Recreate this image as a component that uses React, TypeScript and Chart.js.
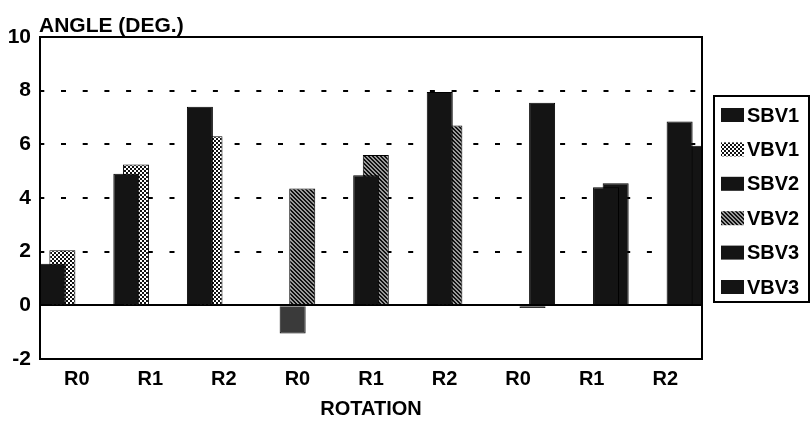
import React, { useEffect, useRef } from "react";
import { Chart, registerables } from "chart.js";

Chart.register(...registerables);

const categories = ["R0", "R1", "R2", "R0", "R1", "R2", "R0", "R1", "R2"];
const seriesNames = ["SBV1", "VBV1", "SBV2", "VBV2", "SBV3", "VBV3"];
const sbv1 = [1.55, 4.9, 7.4, null, null, null, null, null, null];
const vbv1 = [2.05, 5.25, 6.3, null, null, null, null, null, null];
const sbv2 = [null, null, null, -1.05, 4.85, 7.95, null, null, null];
const vbv2 = [null, null, null, 4.35, 5.6, 6.7, null, null, null];
const sbv3 = [null, null, null, null, null, null, -0.1, 4.4, 6.85];
const vbv3 = [null, null, null, null, null, null, 7.55, 4.55, 5.95];
const yTicks = [-2, 0, 2, 4, 6, 8, 10];
const yTitle = "ANGLE (DEG.)";
const xTitle = "ROTATION";

const FONT = "'Liberation Sans', Arial, Helvetica, sans-serif";

function makeDots(): CanvasPattern | string {
  const c = document.createElement("canvas");
  c.width = 4;
  c.height = 4;
  const g = c.getContext("2d");
  if (!g) return "#555";
  g.fillStyle = "#111";
  g.fillRect(0, 0, 4, 4);
  g.fillStyle = "#fff";
  g.fillRect(0, 0, 2, 2);
  g.fillRect(2, 2, 2, 2);
  return g.createPattern(c, "repeat") || "#555";
}

function makeHatch(): CanvasPattern | string {
  const c = document.createElement("canvas");
  c.width = 4;
  c.height = 4;
  const g = c.getContext("2d");
  if (!g) return "#777";
  g.fillStyle = "#9a9a9a";
  g.fillRect(0, 0, 4, 4);
  g.fillStyle = "#111";
  for (let i = 0; i < 4; i++) {
    g.fillRect(i, i, 1, 1);
    g.fillRect((i + 1) % 4, i, 1, 1);
  }
  return g.createPattern(c, "repeat") || "#777";
}

export default function App() {
  const ref = useRef<HTMLCanvasElement | null>(null);

  useEffect(() => {
    if (!ref.current) return;
    const black = "#141414";
    const dots = makeDots();
    const hatch = makeHatch();
    const values = [sbv1, vbv1, sbv2, vbv2, sbv3, vbv3];
    const fills: any[] = [black, dots, black, hatch, black, black];
    const yMin = yTicks[0];
    const yMax = yTicks[yTicks.length - 1];

    const decor = {
      id: "decor",
      afterDraw(chart: any) {
        const { ctx, chartArea } = chart;
        ctx.save();
        ctx.strokeStyle = "#000";
        ctx.lineWidth = 2;
        ctx.strokeRect(chartArea.left, chartArea.top, chartArea.right - chartArea.left, chartArea.bottom - chartArea.top);
        ctx.fillStyle = "#000";
        ctx.font = `bold 21px ${FONT}`;
        ctx.textBaseline = "alphabetic";
        ctx.textAlign = "left";
        ctx.fillText(yTitle, chartArea.left - 1, chartArea.top - 5);
        const lx = 714, ly = 96, lw = 95, lh = 206;
        ctx.fillStyle = "#fff";
        ctx.fillRect(lx, ly, lw, lh);
        ctx.strokeStyle = "#000";
        ctx.lineWidth = 2;
        ctx.strokeRect(lx, ly, lw, lh);
        ctx.font = `bold 20px ${FONT}`;
        ctx.textBaseline = "middle";
        chart.data.datasets.forEach((ds: any, i: number) => {
          const cy = 115 + i * 34.4;
          ctx.fillStyle = fills[i];
          ctx.fillRect(721, cy - 7, 23, 14);
          ctx.fillStyle = "#000";
          ctx.fillText(ds.label, 747, cy + 1);
        });
        ctx.restore();
      },
    };

    const chart = new Chart(ref.current, {
      type: "bar",
      data: {
        labels: categories,
        datasets: seriesNames.map((name, i) => ({
          label: name,
          data: values[i] as any,
          backgroundColor: i === 2 ? ((c: any) => (c.raw < 0 ? "#3a3a3a" : black)) : fills[i],
          borderColor: "#000",
          borderWidth: 1,
          categoryPercentage: 0.783,
          barPercentage: 2.71,
        })),
      },
      options: {
        animation: false,
        responsive: true,
        maintainAspectRatio: false,
        layout: { padding: { left: 0, top: 37, right: 109, bottom: 0 } },
        plugins: {
          legend: { display: false },
          tooltip: { enabled: false },
          title: { display: false },
        },
        scales: {
          x: {
            grid: { display: false, drawTicks: false },
            border: { display: false },
            ticks: {
              color: "#000",
              padding: 8,
              font: { family: FONT, size: 20, weight: "bold" },
            },
            title: {
              display: true,
              text: xTitle,
              color: "#000",
              font: { family: FONT, size: 20, weight: "bold" },
              padding: { top: 0, bottom: 2 },
            },
            afterFit: (s: any) => {
              s.height = 64;
            },
          },
          y: {
            min: yMin,
            max: yMax,
            grid: {
              color: "#000",
              lineWidth: 2,
              drawTicks: false,
            },
            border: {
              display: true,
              color: "#000",
              width: 2,
              dash: (c: any) =>
                c.tick && (c.tick.value === 0 || c.tick.value === yMin || c.tick.value === yMax) ? [] : [5, 16.7],
              dashOffset: 1.7,
            },
            ticks: {
              stepSize: 2,
              color: "#000",
              padding: 9,
              font: { family: FONT, size: 21, weight: "bold" },
            },
            afterFit: (s: any) => {
              s.width = 40;
            },
          },
        },
      },
      plugins: [decor],
    });
    return () => chart.destroy();
  }, []);

  return (
    <div style={{ position: "absolute", left: 0, top: 0, width: 811, height: 423, background: "#fff" }}>
      <canvas ref={ref} />
    </div>
  );
}
